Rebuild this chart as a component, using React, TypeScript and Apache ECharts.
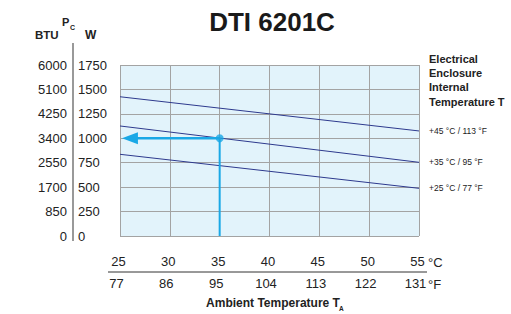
import React, { useEffect, useRef } from "react";
import * as echarts from "echarts";

const tempC = [25, 30, 35, 40, 45, 50, 55];
const tempF = [77, 86, 95, 104, 113, 122, 131];
const wattTicks = [0, 250, 500, 750, 1000, 1250, 1500, 1750];
const btuLabels = [0, 850, 1700, 2550, 3400, 4250, 5100, 6000];

const curve45 = [[25, 1425], [55, 1075]];
const curve35 = [[25, 1126], [55, 754]];
const curve25 = [[25, 836], [55, 488]];
const curveNames = ["+45 °C / 113 °F", "+35 °C / 95 °F", "+25 °C / 77 °F"];

const operatingPoint = [35, 1000];
const arrowTip = [26, 1000];
const dropFoot = [35, 0];

const legendTitle = ["Electrical", "Enclosure", "Internal", "Temperature T"];

const FONT = "'Liberation Sans', Arial, Helvetica, sans-serif";
const NAVY = "#2e3a8e";
const CYAN = "#1aa8e6";
const GRID = "#a3a3a3";
const TXT = "#222222";

export default function App() {
  const ref = useRef<HTMLDivElement>(null);

  useEffect(() => {
    if (!ref.current) return;
    const chart = echarts.init(ref.current, undefined, { renderer: "svg" });

    const curveSeries = [curve45, curve35, curve25].map((d, i) => ({
      type: "line",
      data: d,
      symbol: "none",
      lineStyle: { color: NAVY, width: 1 },
      silent: true,
      z: 3,
      endLabel: {
        show: true,
        formatter: curveNames[i],
        distance: 10,
        fontSize: 8.5,
        color: TXT,
        fontFamily: FONT,
      },
    }));

    chart.setOption({
      animation: false,
      grid: {
        left: 120,
        top: 65,
        width: 299,
        height: 171,
        show: true,
        backgroundColor: "#e2f3fb",
        borderWidth: 0,
      },
      xAxis: [
        {
          type: "value",
          min: tempC[0],
          max: tempC[tempC.length - 1],
          interval: 5,
          position: "bottom",
          axisLine: { show: false },
          axisTick: { show: false },
          splitLine: { show: true, lineStyle: { color: GRID, width: 1 } },
          axisLabel: {
            margin: 19,
            fontSize: 13,
            color: TXT,
            fontFamily: FONT,
            padding: [0, 3, 0, 0],
            formatter: (v: number) => String(tempC[tempC.indexOf(v)] ?? v),
          },
        },
        {
          type: "value",
          min: tempC[0],
          max: tempC[tempC.length - 1],
          interval: 5,
          position: "bottom",
          axisLine: { show: false },
          axisTick: { show: false },
          splitLine: { show: false },
          axisLabel: {
            margin: 41,
            fontSize: 13,
            color: TXT,
            fontFamily: FONT,
            padding: [0, 7, 0, 0],
            formatter: (v: number) => String(tempF[tempC.indexOf(v)] ?? ""),
          },
        },
      ],
      yAxis: [
        {
          type: "value",
          min: wattTicks[0],
          max: wattTicks[wattTicks.length - 1],
          interval: 250,
          position: "left",
          axisLine: { show: false },
          axisTick: { show: false },
          splitLine: { show: true, lineStyle: { color: GRID, width: 1 } },
          axisLabel: {
            margin: 42,
            align: "left",
            fontSize: 13,
            color: TXT,
            fontFamily: FONT,
            padding: [0, 0, 5, 0],
            formatter: (v: number) => String(wattTicks[wattTicks.indexOf(v)] ?? v),
          },
        },
        {
          type: "value",
          min: wattTicks[0],
          max: wattTicks[wattTicks.length - 1],
          interval: 250,
          position: "left",
          axisLine: { show: false },
          axisTick: { show: false },
          splitLine: { show: false },
          axisLabel: {
            margin: 53,
            fontSize: 13,
            color: TXT,
            fontFamily: FONT,
            padding: [0, 0, 5, 0],
            formatter: (v: number) => String(btuLabels[wattTicks.indexOf(v)] ?? ""),
          },
        },
      ],
      series: [
        ...curveSeries,
        {
          type: "line",
          data: [operatingPoint, dropFoot],
          symbol: "none",
          lineStyle: { color: CYAN, width: 2 },
          silent: true,
          z: 4,
        },
        {
          type: "line",
          data: [
            { value: operatingPoint, symbol: "none" },
            {
              value: arrowTip,
              symbol: "triangle",
              symbolSize: [12, 16],
              symbolRotate: 90,
            },
          ],
          showSymbol: true,
          itemStyle: { color: CYAN },
          lineStyle: { color: CYAN, width: 2.5 },
          silent: true,
          z: 4,
        },
        {
          type: "scatter",
          data: [operatingPoint],
          symbolSize: 8,
          itemStyle: { color: CYAN },
          silent: true,
          z: 5,
        },
      ],
      graphic: [
        {
          type: "text",
          x: 272,
          y: 22,
          style: {
            text: "DTI 6201C",
            align: "center",
            verticalAlign: "middle",
            font: `bold 26px ${FONT}`,
            fill: "#1a1a1a",
          },
        },
        {
          type: "text",
          x: 35,
          y: 35,
          style: { text: "BTU", verticalAlign: "middle", font: `bold 11.5px ${FONT}`, fill: TXT },
        },
        {
          type: "text",
          x: 62,
          y: 22,
          style: { text: "P", verticalAlign: "middle", font: `bold 11px ${FONT}`, fill: TXT },
        },
        {
          type: "text",
          x: 70,
          y: 27,
          style: { text: "C", verticalAlign: "middle", font: `bold 7px ${FONT}`, fill: TXT },
        },
        {
          type: "text",
          x: 85,
          y: 35,
          style: { text: "W", verticalAlign: "middle", font: `bold 12px ${FONT}`, fill: TXT },
        },
        {
          type: "line",
          shape: { x1: 73, y1: 43, x2: 73, y2: 241 },
          style: { stroke: "#777777", lineWidth: 1.5 },
        },
        {
          type: "line",
          shape: { x1: 108, y1: 272, x2: 427, y2: 272 },
          style: { stroke: "#333333", lineWidth: 1 },
        },
        {
          type: "text",
          x: 428,
          y: 262,
          style: { text: "°C", verticalAlign: "middle", font: `13px ${FONT}`, fill: TXT },
        },
        {
          type: "text",
          x: 428,
          y: 284,
          style: { text: "°F", verticalAlign: "middle", font: `13px ${FONT}`, fill: TXT },
        },
        {
          type: "text",
          x: 273,
          y: 303,
          style: {
            text: "Ambient Temperature T",
            align: "center",
            verticalAlign: "middle",
            font: `bold 12px ${FONT}`,
            fill: TXT,
          },
        },
        {
          type: "text",
          x: 339,
          y: 308,
          style: { text: "A", verticalAlign: "middle", font: `bold 6.5px ${FONT}`, fill: TXT },
        },
        ...legendTitle.map((t, i) => ({
          type: "text",
          x: 429,
          y: 58.5 + i * 14.4,
          style: { text: t, verticalAlign: "middle", font: `bold 11px ${FONT}`, fill: TXT },
        })),
      ],
    });

    return () => chart.dispose();
  }, []);

  return (
    <div
      ref={ref}
      style={{ position: "fixed", left: 0, top: 0, width: 511, height: 314, background: "#ffffff" }}
    />
  );
}
